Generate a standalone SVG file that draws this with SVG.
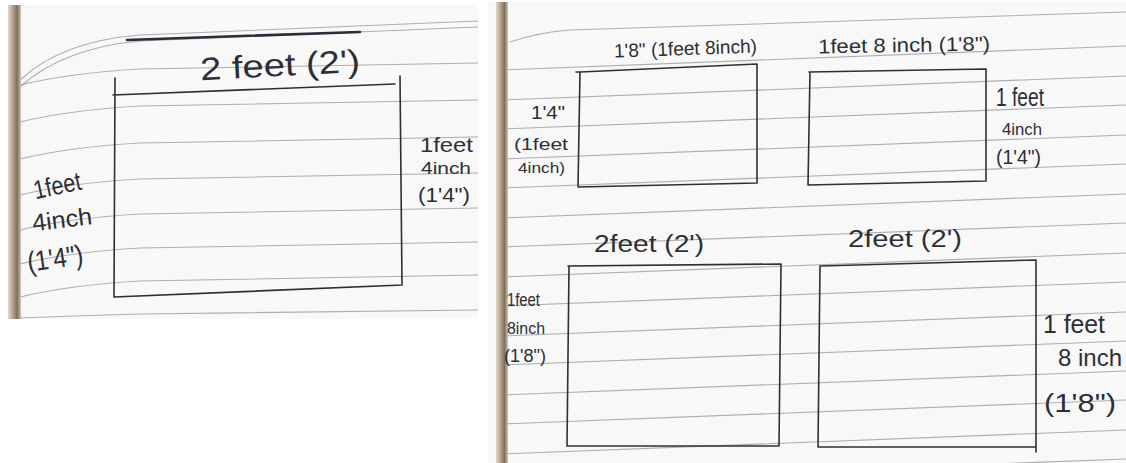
<svg xmlns="http://www.w3.org/2000/svg" width="1126" height="463" viewBox="0 0 1126 463">
<defs>
<linearGradient id="bind" x1="0" y1="0" x2="1" y2="0">
<stop offset="0" stop-color="#e2d8c8"/>
<stop offset="0.45" stop-color="#a89882"/>
<stop offset="0.7" stop-color="#7d6e5c"/>
<stop offset="1" stop-color="#cfc3b1"/>
</linearGradient>
<style>
.paper{fill:#f8f8f8}
.rule{fill:none;stroke:#8d8d92;stroke-width:1.1;opacity:0.7}
.pen{fill:none;stroke:#2e2e34;stroke-width:1.6;stroke-linecap:round;stroke-linejoin:round}
.hw{font-family:"Liberation Sans","DejaVu Sans",sans-serif;fill:#2e2e34}
</style>
</defs>
<rect width="1126" height="463" fill="#ffffff"/>

<g id="left-page">
<rect class="paper" x="8" y="5" width="470" height="314"/>
<g id="left-rules">
<path class="rule" d="M20,80 C50,52 90,39 140,35 L478,21" stroke="#8e86b0"/>
<path class="rule" d="M20,87 C50,59 95,45 140,41 L478,27" stroke="#8e86b0"/>
<path class="rule" d="M20,85 Q70,73 140,69 L478,63"/>
<path class="rule" d="M20,122 Q70,110 140,106 L478,100"/>
<path class="rule" d="M20,159 Q70,147 140,143 L478,137"/>
<path class="rule" d="M20,195 Q70,183 140,179 L478,173"/>
<path class="rule" d="M20,230 Q70,218 140,214 L478,208"/>
<path class="rule" d="M20,264 Q70,252 140,248 L478,242"/>
<path class="rule" d="M20,297 Q70,285 140,281 L478,275"/>
<path class="rule" d="M20,318 Q70,316 140,314 L478,310"/>
</g>
<path d="M127,40 L360,32" stroke="#2c2c3a" stroke-width="2.6" fill="none" stroke-linecap="round"/>
<rect x="8" y="5" width="13" height="314" fill="url(#bind)"/>
</g>

<g id="right-page">
<rect class="paper" x="488" y="2" width="638" height="461"/>
<g id="right-rules">
<path class="rule" d="M510,42 Q540,32 570,30 L1126,12"/>
<path class="rule" d="M500,70 L1126,46"/>
<path class="rule" d="M500,100 L1126,76"/>
<path class="rule" d="M500,129 L1126,105"/>
<path class="rule" d="M500,159 L1126,135"/>
<path class="rule" d="M500,188 L1126,164"/>
<path class="rule" d="M500,218 L1126,194"/>
<path class="rule" d="M500,247 L1126,223"/>
<path class="rule" d="M500,277 L1126,253"/>
<path class="rule" d="M500,306 L1126,282"/>
<path class="rule" d="M500,336 L1126,312"/>
<path class="rule" d="M500,365 L1126,341"/>
<path class="rule" d="M500,395 L1126,371"/>
<path class="rule" d="M500,424 L1126,400"/>
<path class="rule" d="M500,454 L1126,430"/>
<path class="rule" d="M520,482 L1126,459"/>
</g>
<rect x="496" y="2" width="12" height="461" fill="url(#bind)"/>
</g>

<g id="main-rect">
<path class="pen" d="M113,95 L395,84" stroke-width="2.6"/>
<path class="pen" d="M115,78 L114,297 L402,285 L400,76"/>
</g>
<g id="main-top-label"><text class="hw" x="200" y="76" font-size="32" textLength="160" lengthAdjust="spacingAndGlyphs" transform="rotate(-3 280 66)">2 feet (2')</text></g>
<g id="main-left-label">
<text class="hw" x="33" y="195" font-size="26" textLength="48" lengthAdjust="spacingAndGlyphs" transform="rotate(-12 55 185)">1feet</text>
<text class="hw" x="32" y="228" font-size="24" textLength="60" lengthAdjust="spacingAndGlyphs" transform="rotate(-7 60 220)">4inch</text>
<text class="hw" x="27" y="268" font-size="28" textLength="56" lengthAdjust="spacingAndGlyphs" transform="rotate(-8 55 258)">(1'4")</text>
</g>
<g id="main-right-label">
<text class="hw" x="420" y="152" font-size="21" textLength="53" lengthAdjust="spacingAndGlyphs">1feet</text>
<text class="hw" x="421" y="174" font-size="17" textLength="50" lengthAdjust="spacingAndGlyphs">4inch</text>
<text class="hw" x="418" y="202" font-size="21" textLength="52" lengthAdjust="spacingAndGlyphs">(1'4")</text>
</g>

<g id="rect-tl">
<path class="pen" d="M576,72 L580,72 L757,64 L757,183 L578,187 L580,72"/>
</g>
<g id="rect-tl-labels">
<text class="hw" x="614" y="55" font-size="19" textLength="143" lengthAdjust="spacingAndGlyphs" transform="rotate(-2 685 50)">1'8" (1feet 8inch)</text>
<text class="hw" x="531" y="119" font-size="18" textLength="34" lengthAdjust="spacingAndGlyphs">1'4"</text>
<text class="hw" x="514" y="150" font-size="17" textLength="54" lengthAdjust="spacingAndGlyphs">(1feet</text>
<text class="hw" x="518" y="173" font-size="15" textLength="47" lengthAdjust="spacingAndGlyphs">4inch)</text>
</g>

<g id="rect-tr">
<path class="pen" d="M809,72 L986,69 L986,181 L808,185 L810,72"/>
</g>
<g id="rect-tr-labels">
<text class="hw" x="818" y="52" font-size="20" textLength="172" lengthAdjust="spacingAndGlyphs" transform="rotate(-1 900 45)">1feet 8 inch (1'8")</text>
<text class="hw" x="996" y="106" font-size="26" textLength="48" lengthAdjust="spacingAndGlyphs">1 feet</text>
<text class="hw" x="1002" y="135" font-size="17" textLength="40" lengthAdjust="spacingAndGlyphs">4inch</text>
<text class="hw" x="996" y="164" font-size="21" textLength="45" lengthAdjust="spacingAndGlyphs">(1'4")</text>
</g>

<g id="rect-bl">
<path class="pen" d="M568,266 L781,264 L779,446 L567,446 L569,266"/>
</g>
<g id="rect-bl-labels">
<text class="hw" x="594" y="252" font-size="23" textLength="110" lengthAdjust="spacingAndGlyphs">2feet (2')</text>
<text class="hw" x="507" y="306" font-size="18" textLength="33" lengthAdjust="spacingAndGlyphs">1feet</text>
<text class="hw" x="507" y="334" font-size="16" textLength="38" lengthAdjust="spacingAndGlyphs">8inch</text>
<text class="hw" x="504" y="362" font-size="18" textLength="42" lengthAdjust="spacingAndGlyphs">(1'8")</text>
</g>

<g id="rect-br">
<path class="pen" d="M820,266 L1036,260 L1036,452 M1036,447 L818,447 L820,266"/>
</g>
<g id="rect-br-labels">
<text class="hw" x="848" y="247" font-size="23" textLength="114" lengthAdjust="spacingAndGlyphs">2feet (2')</text>
<text class="hw" x="1043" y="333" font-size="26" textLength="62" lengthAdjust="spacingAndGlyphs">1 feet</text>
<text class="hw" x="1058" y="366" font-size="24" textLength="64" lengthAdjust="spacingAndGlyphs">8 inch</text>
<text class="hw" x="1044" y="412" font-size="26" textLength="72" lengthAdjust="spacingAndGlyphs">(1'8")</text>
</g>

<g id="connectors"></g>
</svg>
